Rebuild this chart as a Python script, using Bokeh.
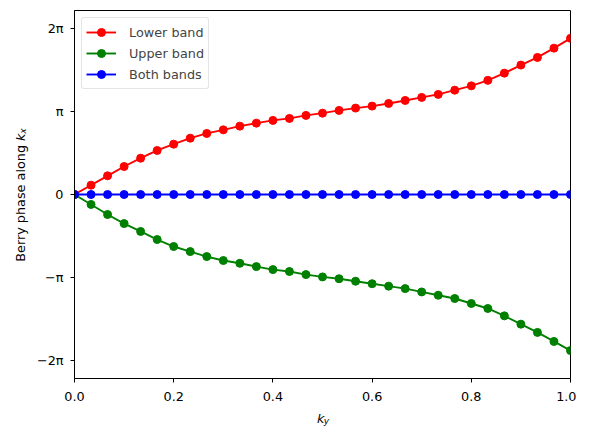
import numpy as np
from bokeh.plotting import figure
from bokeh.layouts import row, column
from bokeh.models import Range1d, FixedTicker, PrintfTickFormatter, Legend, LegendItem
from bokeh.core.properties import value
from bokeh.embed import file_html
from bokeh.resources import INLINE

# k_y grid (31 samples from 0 to 1)
ky = [i / 30 for i in range(31)]

# Berry phase along k_x, in units of pi
lower_band = [0.0, 0.112, 0.225, 0.337, 0.437, 0.530, 0.606, 0.678, 0.735, 0.778, 0.823,
              0.859, 0.892, 0.916, 0.952, 0.979, 1.012, 1.040, 1.064, 1.096, 1.132,
              1.169, 1.205, 1.256, 1.308, 1.374, 1.461, 1.558, 1.650, 1.762, 1.880]
upper_band = [0.0, -0.120, -0.241, -0.350, -0.445, -0.542, -0.626, -0.687, -0.747, -0.795, -0.828,
              -0.868, -0.904, -0.927, -0.964, -0.992, -1.014, -1.044, -1.074, -1.103, -1.133,
              -1.173, -1.213, -1.252, -1.312, -1.372, -1.461, -1.561, -1.660, -1.769, -1.879]
both_bands = [0.0] * 31

series_names = ["Lower band", "Upper band", "Both bands"]
series_colors = ["#ff0000", "#008000", "#0000ff"]

y_ticks = [-2, -1, 0, 1, 2]
y_tick_labels = ["\u22122\u03c0", "\u2212\u03c0", "0", "\u03c0", "2\u03c0"]
x_ticks = [0.0, 0.2, 0.4, 0.6, 0.8, 1.0]

FONT = "DejaVu Sans"
FS = "12.8px"

LEFT_W = 30
MAIN_W = 546
MAIN_H = 404
BOT_H = 28
TOTAL_H = MAIN_H + BOT_H


def blank(w, h):
    f = figure(width=w, height=h, output_backend="svg", toolbar_location=None,
               x_range=Range1d(0, w), y_range=Range1d(0, h),
               x_axis_location=None, y_axis_location=None,
               min_border=0, min_border_left=0, min_border_right=0,
               min_border_top=0, min_border_bottom=0)
    f.grid.visible = False
    f.outline_line_color = None
    f.background_fill_color = "white"
    f.border_fill_color = "white"
    return f


p = figure(width=MAIN_W, height=MAIN_H, output_backend="svg", toolbar_location=None,
           x_range=Range1d(0, 1), y_range=Range1d(-2.215, 2.215),
           min_border_left=44, min_border_right=6, min_border_top=10, min_border_bottom=26)
p.background_fill_color = "white"
p.border_fill_color = "white"
p.outline_line_color = "black"
p.outline_line_width = 1
p.grid.visible = False

for ax in (p.xaxis[0], p.yaxis[0]):
    ax.axis_line_color = "black"
    ax.major_tick_line_color = "black"
    ax.major_tick_in = 0
    ax.major_tick_out = 4
    ax.minor_tick_line_color = None
    ax.major_label_text_font = FONT
    ax.major_label_text_font_size = FS
    ax.major_label_text_color = "black"

p.xaxis[0].ticker = FixedTicker(ticks=x_ticks)
p.xaxis[0].formatter = PrintfTickFormatter(format="%.1f")
p.xaxis[0].major_label_standoff = 9
p.yaxis[0].ticker = FixedTicker(ticks=y_ticks)
p.yaxis[0].major_label_overrides = {t: s for t, s in zip(y_ticks, y_tick_labels)}
p.yaxis[0].major_label_standoff = 7

items = []
for name, col, vals in zip(series_names, series_colors, [lower_band, upper_band, both_bands]):
    r1 = p.line(ky, vals, line_color=col, line_width=1.9)
    r2 = p.scatter(ky, vals, size=8, fill_color=col, line_color=col, line_width=1)
    items.append(LegendItem(label=name, renderers=[r1, r2]))

legend = Legend(items=items, location="top_left", margin=7, padding=4,
                label_text_font=FONT, label_text_font_size=FS,
                glyph_width=30, glyph_height=20, label_height=20, label_standoff=13,
                spacing=1, border_line_color="#cccccc", border_line_width=1,
                background_fill_alpha=0.8, border_radius=3)
p.add_layout(legend, "center")

# y-axis title: "Berry phase along k_x" (rotated)
ylab = blank(LEFT_W, TOTAL_H)
ylab.text(x=[19.5], y=[287.5], text=["Berry phase along"], angle=np.pi / 2,
          text_font=value(FONT), text_font_size=FS, text_color="black",
          text_align="right", text_baseline="middle")
ylab.text(x=[19.5], y=[291.5], text=["k"], angle=np.pi / 2,
          text_font=value(FONT), text_font_size=FS, text_font_style="italic", text_color="black",
          text_align="left", text_baseline="middle")
ylab.text(x=[22.5], y=[298.8], text=["x"], angle=np.pi / 2,
          text_font=value(FONT), text_font_size="9px", text_font_style="italic", text_color="black",
          text_align="left", text_baseline="middle")

# x-axis title: "k_y"
xlab = blank(MAIN_W, BOT_H)
xlab.text(x=[267], y=[14], text=["k"],
          text_font=value(FONT), text_font_size=FS, text_font_style="italic", text_color="black",
          text_align="left", text_baseline="alphabetic")
xlab.text(x=[274.5], y=[12], text=["y"],
          text_font=value(FONT), text_font_size="9px", text_font_style="italic", text_color="black",
          text_align="left", text_baseline="alphabetic")

layout = row(ylab, column(p, xlab, spacing=0), spacing=0)

open("out.html", "w").write(file_html(layout, INLINE))
